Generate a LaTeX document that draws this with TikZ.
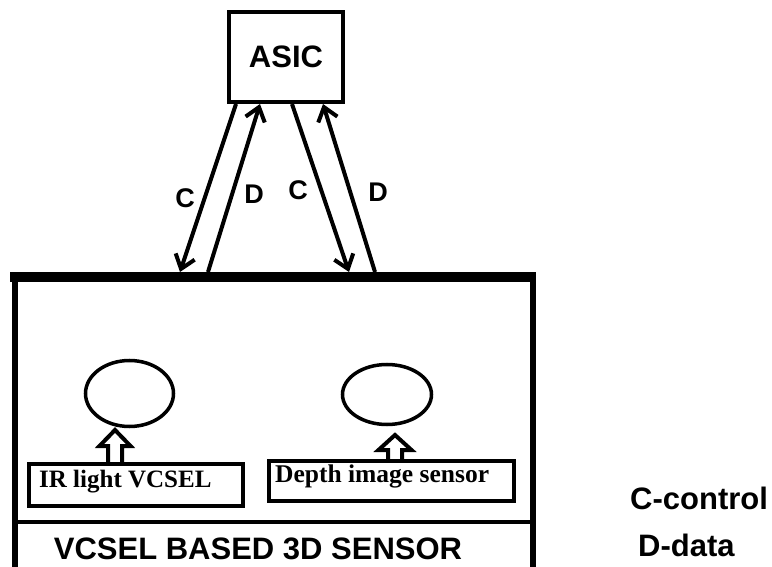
\documentclass[tikz,border=0pt]{standalone}
\usepackage{fontspec}
\setmainfont{Liberation Serif}
\setsansfont{Liberation Sans}
\usetikzlibrary{calc,arrows.meta,shapes.geometric}

\begin{document}
\begin{tikzpicture}[x=1pt,y=-1pt,
    bus/.style={line width=4pt,-{Straight Barb[length=13pt,width=20pt]}},
    letter/.style={font=\sffamily\bfseries\fontsize{27pt}{32pt}\selectfont,inner sep=0pt},
    title/.style={font=\sffamily\bfseries\fontsize{31pt}{36pt}\selectfont,inner sep=0pt},
    partbox/.style={draw,line width=4pt,inner sep=0pt},
    parttext/.style={font=\rmfamily\bfseries\fontsize{25pt}{30pt}\selectfont,inner sep=0pt,anchor=base west},
    lens/.style={draw,ellipse,line width=3.5pt,inner sep=0pt},
    hollow/.style={line width=4pt,line join=miter}]
  \useasboundingbox (0,0) rectangle (772,567);

  % ASIC chip
  \node[draw,line width=4pt,minimum width=114pt,minimum height=90pt,
        font=\sffamily\bfseries\fontsize{31pt}{36pt}\selectfont] (asic) at (286,57) {ASIC};

  % Sensor housing (heavy top edge)
  \draw[line width=6.5pt] (15,567) -- (15,277) -- (533,277) -- (533,567);
  \draw[line width=10pt] (10,277) -- (536,277);
  \draw[line width=4.5pt] (15,522) -- (533,522);
  \node[title] (sensor) at (258,549) {VCSEL BASED 3D SENSOR};

  % Ends of the links on the housing
  \coordinate (cone) at (180,272);
  \coordinate (done) at (208,272);
  \coordinate (ctwo) at (349,272);
  \coordinate (dtwo) at (375,272);

  % Control and data links
  \draw[bus] ($(asic.south)+(-50,0)$) -- (cone);
  \draw[bus] (done) -- ($(asic.south)+(-26,0)$);
  \draw[bus] ($(asic.south)+(6,0)$) -- (ctwo);
  \draw[bus] (dtwo) -- ($(asic.south)+(37,0)$);
  \node[letter] (lc1) at (185,198) {C};
  \node[letter] (ld1) at (254,194) {D};
  \node[letter] (lc2) at (298,190) {C};
  \node[letter] (ld2) at (378,192) {D};

  % Emitter and receiver optics
  \node[lens,minimum width=88pt,minimum height=66pt] (vcsel) at (129.5,393.5) {};
  \node[lens,minimum width=89pt,minimum height=60pt] (depth) at (387,394.5) {};

  % Parts
  \node[partbox,minimum width=214pt,minimum height=42pt] (irbox) at (136,485) {};
  \node[parttext] (irtext) at (39,487) {IR light VCSEL};
  \node[partbox,minimum width=245pt,minimum height=40pt] (depthbox) at (391.5,481) {};
  \node[parttext,font=\rmfamily\bfseries\fontsize{25.5pt}{30pt}\selectfont] (depthtext) at (275,482) {Depth image sensor};

  % Hollow arrows up to the optics
  \draw[hollow] ($(irbox.north)+(-28,0)$) -- ++(0,-16) -- ++(-8.5,0) -- ++(15.5,-16)
    -- ++(15.5,16) -- ++(-8.5,0) -- ++(0,16);
  \draw[hollow] ($(depthbox.north)+(-3.5,0)$) -- ++(0,-9) -- ++(-9.5,0) -- ++(16.5,-15)
    -- ++(16.5,15) -- ++(-9.5,0) -- ++(0,9);

  % Key
  \node[title,anchor=west] (keyc) at (630,498) {C-control};
  \node[title,anchor=west] (keyd) at (638,545) {D-data};
\end{tikzpicture}
\end{document}
